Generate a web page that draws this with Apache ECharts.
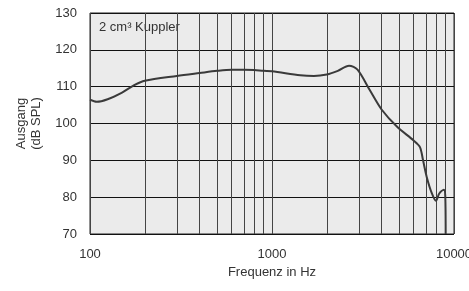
<!DOCTYPE html>
<html>
<head>
<meta charset="utf-8">
<script src="https://cdn.jsdelivr.net/npm/echarts@6/dist/echarts.min.js"></script>
<style>
  html, body { margin: 0; padding: 0; background: #fff; }
  #chart { width: 469px; height: 291px; }
</style>
</head>
<body>
<div id="chart"></div>
<script>
// Frequenzgang
var freqHz = [100, 109, 125, 150, 175, 200, 300, 400, 500, 600, 700, 800, 900, 1000,
  1430, 1700, 2000, 2300, 2650, 2950, 3450, 4000, 4870, 6000, 6500, 6760, 7080, 7560,
  7960, 8300, 8800, 8950, 9000];
var ausgangDb = [106.5, 105.9, 106.6, 108.4, 110.4, 111.6, 112.9, 113.7, 114.3, 114.6, 114.6, 114.5, 114.3, 114.2,
  113.1, 112.9, 113.3, 114.3, 115.7, 114.6, 109.0, 103.8, 99.1, 95.4, 93.6, 90.0, 85.5, 81.0,
  79.0, 81.0, 82.0, 80.5, 70.0];
// Zwischenlinien im log. Raster
var minorFreqs = [200, 300, 400, 500, 600, 700, 800, 900, 2000, 3000, 4000, 5000, 6000, 7000, 8000, 9000];
var yMin = 70, yMax = 130, yStep = 10;
var xMin = 100, xMax = 10000;
var boxLabel = '2 cm³ Kuppler';

var font = 'Liberation Sans';
var pts = freqHz.map(function (f, i) { return [f, ausgangDb[i]]; });

var myChart = echarts.init(document.getElementById('chart'));
myChart.setOption({
  animation: false,
  textStyle: { fontFamily: font },
  grid: {
    left: 90, top: 13, width: 364, height: 221,
    outerBoundsMode: 'none',
    show: true, backgroundColor: '#ebebeb', borderColor: '#222', borderWidth: 1
  },
  xAxis: {
    type: 'log', logBase: 10, min: xMin, max: xMax,
    name: 'Frequenz in Hz', nameLocation: 'middle', nameGap: 32,
    nameTextStyle: { color: '#333', fontSize: 13, fontFamily: font },
    axisLine: { show: false },
    axisTick: { show: false },
    axisLabel: {
      color: '#333', fontSize: 13, margin: 14, fontFamily: font,
      alignMaxLabel: 'center', alignMinLabel: 'center',
      formatter: function (v) { return String(Math.round(v)); }
    },
    splitLine: { show: true, lineStyle: { color: '#444', width: 1 } }
  },
  yAxis: {
    type: 'value', min: yMin, max: yMax, interval: yStep,
    name: 'Ausgang\n(dB SPL)', nameLocation: 'middle', nameGap: 42, nameRotate: 90,
    nameTextStyle: { color: '#333', fontSize: 13, lineHeight: 15, fontFamily: font },
    axisLine: { show: false },
    axisTick: { show: false },
    axisLabel: { color: '#333', fontSize: 13, margin: 13, fontFamily: font },
    splitLine: { show: true, lineStyle: { color: '#111', width: 1 } }
  },
  graphic: [{
    type: 'text', left: 99, top: 21,
    style: { text: boxLabel, fill: '#333', font: '13px ' + font }
  }],
  series: [
    {
      type: 'line', data: [], z: 1, silent: true,
      markLine: {
        silent: true, symbol: 'none', animation: false,
        label: { show: false },
        lineStyle: { color: '#444', width: 1, type: 'solid' },
        data: minorFreqs.map(function (f) { return { xAxis: f }; })
      }
    },
    {
      type: 'line', data: pts, z: 5, smooth: 0.3,
      showSymbol: false,
      lineStyle: { color: '#3a3a3a', width: 2 }
    }
  ]
});
</script>
</body>
</html>
